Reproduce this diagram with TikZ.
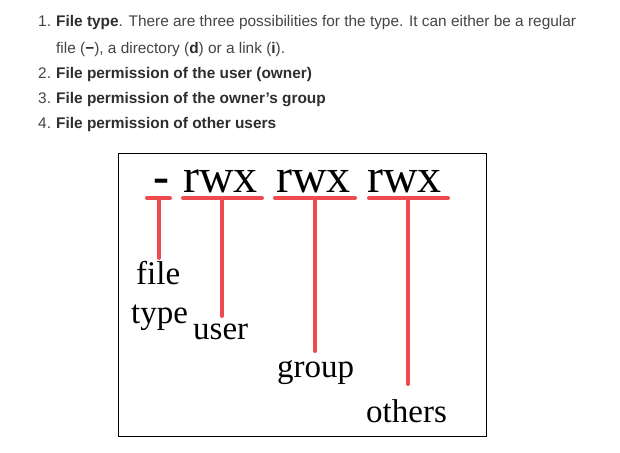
\documentclass[tikz,border=0pt]{standalone}
\usepackage{fontspec}
\setmainfont{Liberation Serif}
\newfontfamily\listfont{Liberation Sans}
\definecolor{txtgray}{HTML}{444444}
\definecolor{boldgray}{HTML}{2E2E2E}
\definecolor{linered}{HTML}{EE4B50}
\begin{document}
\begin{tikzpicture}[x=1pt,y=-1pt,
  listtext/.style={anchor=base west,inner sep=0pt,text=txtgray,font=\listfont\fontsize{15.4}{18}\selectfont},
  bigtext/.style={anchor=base west,inner sep=0pt,font=\fontsize{48}{56}\selectfont},
  labeltext/.style={anchor=base west,inner sep=0pt,font=\fontsize{33}{38}\selectfont},
  redline/.style={draw=linered,line width=4pt,line cap=round}]
\useasboundingbox (0,0) rectangle (620,452);
% list
\node[listtext] (n1) at (38,27) {1.};
\node[listtext] (t1) at (56,27) {\textbf{\color{boldgray}File type}. There are three possibilities for the type. It can either be a regular};
\node[listtext] (t1b) at (56,53) {file (\textbf{\color{boldgray}−}), a directory (\textbf{\color{boldgray}d}) or a link (\textbf{\color{boldgray}i}).};
\node[listtext] (n2) at (38,78) {2.};
\node[listtext] (t2) at (56,78) {\textbf{\color{boldgray}File permission of the user (owner)}};
\node[listtext] (n3) at (38,103) {3.};
\node[listtext] (t3) at (56,103) {\textbf{\color{boldgray}File permission of the owner’s group}};
\node[listtext] (n4) at (38,128) {4.};
\node[listtext] (t4) at (56,128) {\textbf{\color{boldgray}File permission of other users}};
% box
\draw[line width=1pt] (118,153) rectangle (486,436);
% permission string
\node[bigtext] (dash) at (153,192) {\textbf{-}};
\node[bigtext] (rwx1) at (183,192) {rwx};
\node[bigtext] (rwx2) at (276,192) {rwx};
\node[bigtext] (rwx3) at (367,192) {rwx};
% underlines
\draw[redline] (147,198) -- (170,198);
\draw[redline] (183,198) -- (262,198);
\draw[redline] (275,198) -- (355,198);
\draw[redline] (369,198) -- (448,198);
% labels
\node[labeltext] (lfile) at (136,284) {file};
\node[labeltext] (ltype) at (131,323) {type};
\node[labeltext] (luser) at (193,339) {user};
\node[labeltext] (lgroup) at (277,377) {group};
\node[labeltext] (lothers) at (366,422) {others};
% connectors
\coordinate (c0) at (159,198); \coordinate (e0) at (159,258);
\coordinate (c1) at (222,198); \coordinate (e1) at (222,316);
\coordinate (c2) at (315,198); \coordinate (e2) at (315,351);
\coordinate (c3) at (408,198); \coordinate (e3) at (408,384);
\draw[redline] (c0) -- (e0);
\draw[redline] (c1) -- (e1);
\draw[redline] (c2) -- (e2);
\draw[redline] (c3) -- (e3);
\end{tikzpicture}
\end{document}
